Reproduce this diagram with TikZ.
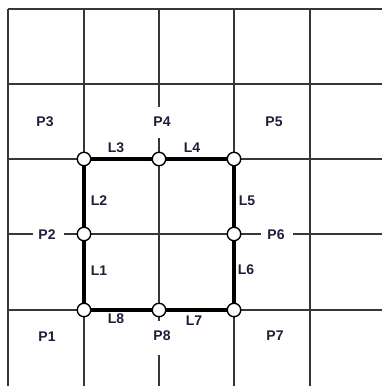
\documentclass[tikz,border=0pt]{standalone}
\usepackage{fontspec}
\setmainfont{Liberation Sans}
\definecolor{gridgray}{RGB}{55,55,55}
\definecolor{labelcol}{RGB}{28,30,58}
\begin{document}
\begin{tikzpicture}[x=1pt,y=-1pt,
  gridline/.style={line width=2pt, draw=gridgray},
  boxline/.style={line width=3.4pt, draw=black},
  pt/.style={circle, draw=black, fill=white, line width=1.4pt, minimum size=13.5pt, inner sep=0pt},
  lab/.style={font=\fontsize{14}{16}\selectfont\bfseries, text=labelcol, inner sep=0pt}]
\useasboundingbox (0,0) rectangle (382,386);
% full grid lines
\foreach \y in {9,84,159,310} \draw[gridline] (8,\y) -- (382,\y);
\foreach \x in {8,84,234,310} \draw[gridline] (\x,9) -- (\x,386);
% broken lines
\coordinate (hA) at (8,234);   \coordinate (hB) at (33,234);
\coordinate (hC) at (64,234);  \coordinate (hD) at (261,234);
\coordinate (hE) at (293,234); \coordinate (hF) at (382,234);
\draw[gridline] (hA) -- (hB) (hC) -- (hD) (hE) -- (hF);
\coordinate (vA) at (159,9);   \coordinate (vB) at (159,107);
\coordinate (vC) at (159,138); \coordinate (vD) at (159,321);
\coordinate (vE) at (159,355); \coordinate (vF) at (159,386);
\draw[gridline] (vA) -- (vB) (vC) -- (vD) (vE) -- (vF);
% points
\node[pt] (n1) at (84,310) {};
\node[pt] (n2) at (84,234) {};
\node[pt] (n3) at (84,159) {};
\node[pt] (n4) at (159,159) {};
\node[pt] (n5) at (234,159) {};
\node[pt] (n6) at (234,234) {};
\node[pt] (n7) at (234,310) {};
\node[pt] (n8) at (159,310) {};
% box edges
\draw[boxline] (n1) -- (n2);
\draw[boxline] (n2) -- (n3);
\draw[boxline] (n3) -- (n4);
\draw[boxline] (n4) -- (n5);
\draw[boxline] (n5) -- (n6);
\draw[boxline] (n6) -- (n7);
\draw[boxline] (n7) -- (n8);
\draw[boxline] (n8) -- (n1);
% labels
\node[lab] (P1) at (47,337) {P1};
\node[lab] (P2) at (47,235) {P2};
\node[lab] (P3) at (45,122) {P3};
\node[lab] (P4) at (162,122) {P4};
\node[lab] (P5) at (274,122) {P5};
\node[lab] (P6) at (276,235) {P6};
\node[lab] (P7) at (275,336) {P7};
\node[lab] (P8) at (162,336) {P8};
\node[lab] (L1) at (99,271) {L1};
\node[lab] (L2) at (99,201) {L2};
\node[lab] (L3) at (116,148) {L3};
\node[lab] (L4) at (192,148) {L4};
\node[lab] (L5) at (247,201) {L5};
\node[lab] (L6) at (246,270) {L6};
\node[lab] (L7) at (194,321) {L7};
\node[lab] (L8) at (116,319) {L8};
\end{tikzpicture}
\end{document}
